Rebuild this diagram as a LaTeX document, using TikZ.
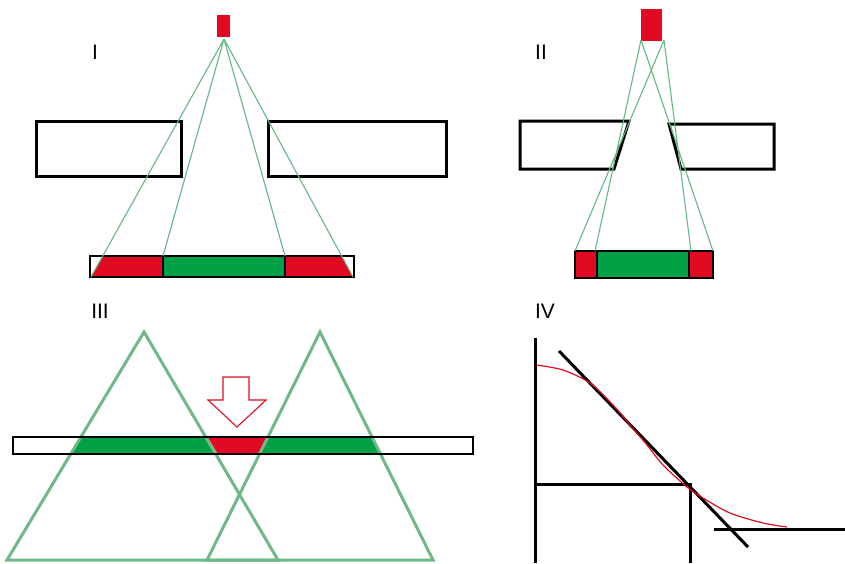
\documentclass[tikz,border=0pt]{standalone}
\usepackage{fontspec}
\setmainfont{Liberation Sans}
\definecolor{hred}{RGB}{225,10,35}
\definecolor{hgreen}{RGB}{0,160,70}
\definecolor{raygreen}{RGB}{100,185,130}
\definecolor{trigreen}{RGB}{110,185,135}
\begin{document}
\begin{tikzpicture}[x=1pt,y=-1pt,
  blk/.style={draw=black,line width=3pt},
  thinblk/.style={draw=black,line width=1.4pt},
  ray/.style={draw=raygreen,line width=1.1pt},
  tri/.style={draw=trigreen,line width=3pt},
  lab/.style={font=\fontsize{21}{25}\selectfont,inner sep=0pt,text=black}]
\useasboundingbox[fill=white] (0,0) rectangle (845,563);

% ---------- Panel I ----------
\node[lab] (lI) at (95,52) {I};
\fill[hred] (217,15) rectangle (230,37);
\coordinate (aI) at (224,39);
\fill[hred] (91,277) -- (103,256) -- (163,256) -- (163,277) -- cycle;
\fill[hgreen] (163,256) rectangle (285,277);
\fill[hred] (285,256) -- (342,256) -- (353,277) -- (285,277) -- cycle;
\draw[thinblk] (90,256) rectangle (354,277);
\draw[line width=1.2pt] (163,256) -- (163,277) (285,256) -- (285,277);
\draw[blk] (36,121) rectangle (181,176);
\draw[blk] (268,121) rectangle (446,176);
\coordinate (b1) at (91,277);
\coordinate (b2) at (163,256);
\coordinate (b3) at (285,256);
\coordinate (b4) at (353,277);
\draw[ray] (aI) -- (b1) (aI) -- (b2) (aI) -- (b3) (aI) -- (b4);

% ---------- Panel II ----------
\node[lab] (lII) at (541,52) {II};
\fill[hred] (641,9) rectangle (662,41);
\fill[hred] (575,251) rectangle (597,278);
\fill[hgreen] (597,251) rectangle (689,278);
\fill[hred] (689,251) rectangle (713,278);
\draw[thinblk] (575,251) rectangle (713,278);
\draw[line width=1.2pt] (597,251) -- (597,278) (689,251) -- (689,278);
\draw[blk,line join=miter] (520,121) -- (629,121) -- (614,169) -- (520,169) -- cycle;
\draw[blk,line join=miter] (669,124) -- (774,124) -- (774,169) -- (681,169) -- cycle;
\coordinate (sL) at (641,40);
\coordinate (sR) at (664,40);
\coordinate (c1) at (575,251);
\coordinate (c2) at (595,251);
\coordinate (c3) at (691,251);
\coordinate (c4) at (713,251);
\draw[ray] (sR) -- (c1) (sL) -- (c2) (sR) -- (c3) (sL) -- (c4);

% ---------- Panel III ----------
\node[lab] (lIII) at (100,311) {III};
\coordinate (tLa) at (144,332);
\coordinate (tLl) at (7,560);
\coordinate (tLr) at (278,560);
\coordinate (tRa) at (320,332);
\coordinate (tRl) at (207,560);
\coordinate (tRr) at (433,560);
\begin{scope}
  \clip (13,437) rectangle (473,454);
  \fill[hgreen] (tLa) -- (tLl) -- (tLr) -- cycle;
  \fill[hgreen] (tRa) -- (tRl) -- (tRr) -- cycle;
  \fill[hred] (tLa) -- (242,494) -- (tRa) -- cycle;
\end{scope}
\draw[tri,line join=miter] (tLa) -- (tLl) -- (tLr) -- cycle;
\draw[tri,line join=miter] (tRa) -- (tRl) -- (tRr) -- cycle;
\draw[draw=black,line width=2.6pt] (13,437) rectangle (473,454);
\draw[draw=hred,line width=1.1pt] (223,377) -- (249,377) -- (249,400) -- (266,400)
  -- (237,427) -- (208,400) -- (223,400) -- cycle;

% ---------- Panel IV ----------
\node[lab] (lIV) at (545,311) {IV};
\draw[blk] (535,338) -- (535,563);
\draw[blk] (535,484) -- (690,484) -- (690,563);
\draw[blk] (559,351) -- (748,547);
\draw[blk] (714,529) -- (845,529);
\draw[draw=hred,line width=1.2pt] plot[smooth,tension=0.5] coordinates
  {(536,365) (563,370) (590,383) (613,405) (630,425) (647,445) (663,465)
   (687,487) (703,498) (730,513) (763,523) (787,527)};
\end{tikzpicture}
\end{document}
